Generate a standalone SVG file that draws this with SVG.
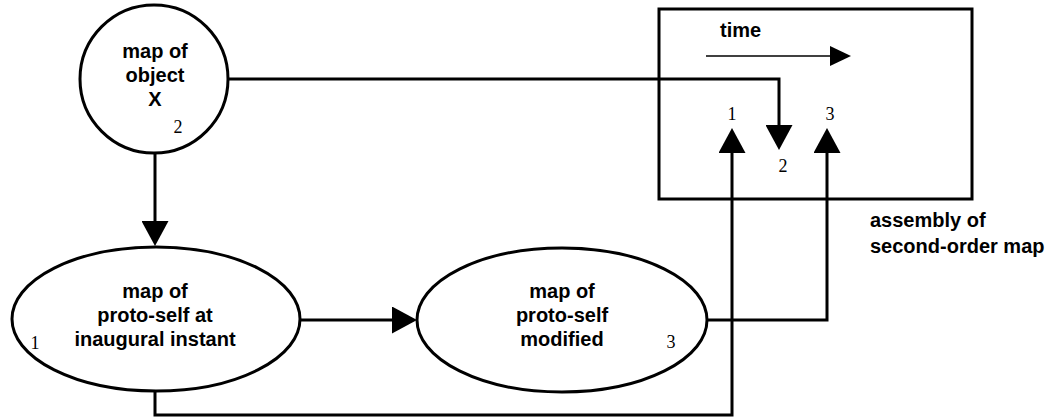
<svg xmlns="http://www.w3.org/2000/svg" width="1056" height="418" viewBox="0 0 1056 418">
<style>
.shape{fill:#fff;stroke:#000;stroke-width:3}
.con{fill:none;stroke:#000;stroke-width:3}
.thin{fill:none;stroke:#000;stroke-width:1.5}
.lbl{font-family:"Liberation Sans",Arial,sans-serif;font-weight:bold;font-size:20px;fill:#000}
.num{font-family:"Liberation Serif","Times New Roman",serif;font-size:18px;fill:#000}
</style>
<defs>
<marker id="ah" markerUnits="userSpaceOnUse" markerWidth="26" markerHeight="27" viewBox="0 0 25 27" refX="15" refY="13.5" orient="auto">
<path d="M0,0 L25,13.5 L0,27 Z" fill="#000"/>
</marker>
<marker id="ahs" markerUnits="userSpaceOnUse" markerWidth="21" markerHeight="20" viewBox="0 0 21 20" refX="11" refY="10" orient="auto">
<path d="M0,0 L21,10 L0,20 Z" fill="#000"/>
</marker>
</defs>
<g id="connectors">
<path class="con" d="M228,79 H779 V140" marker-end="url(#ah)"/>
<path class="con" d="M155,153 V236" marker-end="url(#ah)"/>
<path class="con" d="M300,320 H407" marker-end="url(#ah)"/>
<path class="con" d="M155,390 V415 H732 V138" marker-end="url(#ah)"/>
<path class="con" d="M707,320 H827 V138" marker-end="url(#ah)"/>
</g>
<g id="box">
<rect class="shape" x="659" y="9" width="313" height="190" style="fill:none"/>
<text class="lbl" x="720" y="37">time</text>
<path class="thin" d="M706,56 H841" marker-end="url(#ahs)"/>
<text class="num" x="732" y="120" text-anchor="middle">1</text>
<text class="num" x="830" y="120" text-anchor="middle">3</text>
<text class="num" x="783" y="172" text-anchor="middle">2</text>
</g>
<g id="box-label">
<text class="lbl" x="870" y="227">assembly of</text>
<text class="lbl" x="870" y="253">second-order map</text>
</g>
<g id="object-x">
<circle class="shape" cx="154" cy="79" r="74"/>
<text class="lbl" text-anchor="middle"><tspan x="155" y="58">map of</tspan><tspan x="155" y="82">object</tspan><tspan x="155" y="106">X</tspan></text>
<text class="num" x="178" y="133" text-anchor="middle">2</text>
</g>
<g id="proto-self-inaugural">
<ellipse class="shape" cx="156" cy="319" rx="144" ry="72"/>
<text class="lbl" text-anchor="middle"><tspan x="155" y="298">map of</tspan><tspan x="155" y="322">proto-self at</tspan><tspan x="155" y="346">inaugural instant</tspan></text>
<text class="num" x="35" y="349" text-anchor="middle">1</text>
</g>
<g id="proto-self-modified">
<ellipse class="shape" cx="562" cy="320" rx="145" ry="72"/>
<text class="lbl" text-anchor="middle"><tspan x="562" y="298">map of</tspan><tspan x="562" y="322">proto-self</tspan><tspan x="562" y="346">modified</tspan></text>
<text class="num" x="671" y="348" text-anchor="middle">3</text>
</g>
</svg>
